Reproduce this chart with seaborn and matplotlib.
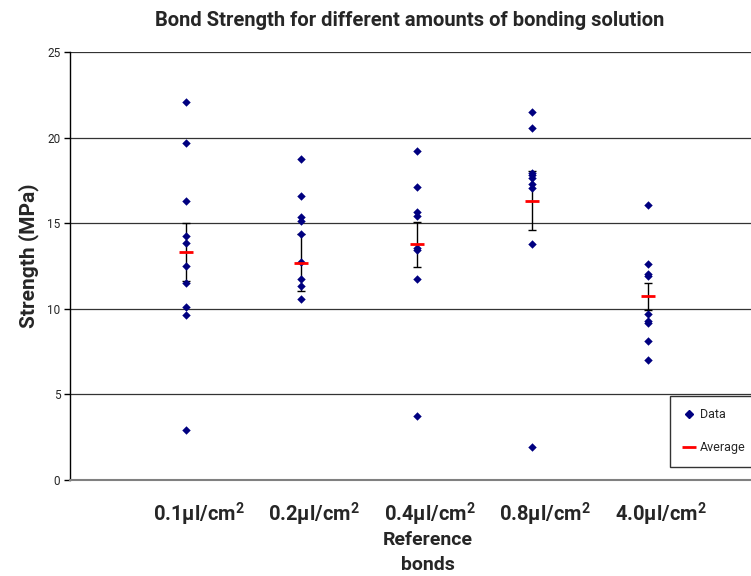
import numpy as np
import pandas as pd
import matplotlib
matplotlib.use("Agg")
import matplotlib.pyplot as plt
import matplotlib.transforms as mtransforms
from matplotlib.lines import Line2D
import seaborn as sns

# Bond strength measurements (MPa) per amount of bonding solution
categories = ["0.1µl/cm$^2$", "0.2µl/cm$^2$", "0.4µl/cm$^2$", "0.8µl/cm$^2$", "4.0µl/cm$^2$"]
strength_01 = [22.10, 19.67, 16.29, 14.28, 13.85, 12.50, 11.51, 10.13, 9.62, 2.91]
strength_02 = [18.77, 16.60, 15.37, 15.12, 14.36, 12.74, 11.74, 11.33, 10.57]
strength_04 = [19.22, 17.11, 15.65, 15.43, 13.54, 13.46, 11.73, 3.75]
strength_08 = [21.48, 20.54, 17.95, 17.79, 17.62, 17.28, 17.05, 13.79, 1.91]
strength_40 = [16.06, 12.60, 12.02, 11.94, 9.70, 9.31, 9.15, 8.12, 7.00]

# Group averages and their error bars
averages = [13.32, 12.70, 13.76, 16.31, 10.73]
errors = [1.72, 1.65, 1.30, 1.72, 0.78]

y_ticks = [0, 5, 10, 15, 20, 25]

groups = [strength_01, strength_02, strength_04, strength_08, strength_40]
df = pd.DataFrame({
    "amount": [c for c, g in zip(categories, groups) for _ in g],
    "strength": [v for g in groups for v in g],
})

sns.set_theme(style="white")
FONT = "Roboto"
plt.rcParams["font.family"] = [FONT, "DejaVu Sans"]
plt.rcParams["mathtext.fontset"] = "custom"
plt.rcParams["mathtext.rm"] = FONT
plt.rcParams["mathtext.bf"] = FONT + ":bold"
plt.rcParams["mathtext.default"] = "bf"

W, H = 751, 576
fig = plt.figure(figsize=(W / 100, H / 100), dpi=100)
ax = fig.add_axes([70 / W, (H - 480) / H, 693 / W, 428 / H])

navy = "#000080"
sns.stripplot(data=df, x="amount", y="strength", order=categories, jitter=False,
              marker="D", size=4.3, color=navy, linewidth=0, ax=ax, zorder=3)

xpos = np.arange(len(categories))
ax.errorbar(xpos, averages, yerr=errors, fmt="none", ecolor="black",
            elinewidth=1.0, capsize=2.6, capthick=1.0, zorder=2)
ax.plot(xpos, averages, linestyle="none", marker="_", markersize=10.5,
        markeredgewidth=2.0, color="#ff0000", zorder=4)

ax.set_xlim(-1, 5)
ax.set_ylim(0, 25)
ax.set_yticks(y_ticks)
ax.set_yticklabels([str(t) for t in y_ticks], fontsize=8.5)
ax.tick_params(axis="y", length=4, width=1, color="black", direction="out",
               left=True, pad=3)
ax.tick_params(axis="x", length=0, pad=15)
# category labels sit slightly right of their point columns
label_shift = mtransforms.ScaledTranslation(0.13, 0, fig.dpi_scale_trans)
for lbl in ax.get_xticklabels():
    lbl.set_fontsize(14.5)
    lbl.set_fontweight("bold")
    lbl.set_transform(lbl.get_transform() + label_shift)

ax.yaxis.grid(True, color="#333333", linewidth=0.9)
ax.set_axisbelow(True)
for side in ["top", "right"]:
    ax.spines[side].set_visible(False)
ax.spines["left"].set_color("black")
ax.spines["left"].set_linewidth(1.0)
ax.spines["bottom"].set_color("#808080")
ax.spines["bottom"].set_linewidth(1.5)

ax.set_ylabel("Strength (MPa)", fontsize=15, fontweight="bold")
ax.yaxis.set_label_coords(-(70 - 29) / 693, (480 - 256) / 428)
ax.yaxis.label.set_verticalalignment("center")
ax.set_xlabel("Reference\nbonds", fontsize=14, fontweight="bold", linespacing=1.47)
ax.xaxis.set_label_coords((428 - 70) / 693, -(531 - 480) / 428)
ax.xaxis.label.set_verticalalignment("top")

fig.text(410 / W, 1 - 20 / H, "Bond Strength for different amounts of bonding solution",
         ha="center", va="center", fontsize=14.5, fontweight="bold")

handles = [
    Line2D([], [], linestyle="none", marker="D", markersize=4.0, color=navy, label="Data"),
    Line2D([], [], linestyle="none", marker="_", markersize=10, markeredgewidth=2,
           color="#ff0000", label="Average"),
]
leg = ax.legend(handles=handles, loc="lower left",
                bbox_to_anchor=(670 / W, (H - 467) / H), bbox_transform=fig.transFigure,
                fontsize=9, frameon=True, fancybox=False, handlelength=1.0,
                handletextpad=0.4, borderpad=1.0, labelspacing=1.6, borderaxespad=0)
leg.get_frame().set_edgecolor("black")
leg.get_frame().set_linewidth(1.0)

fig.savefig("out.png", dpi=100)
